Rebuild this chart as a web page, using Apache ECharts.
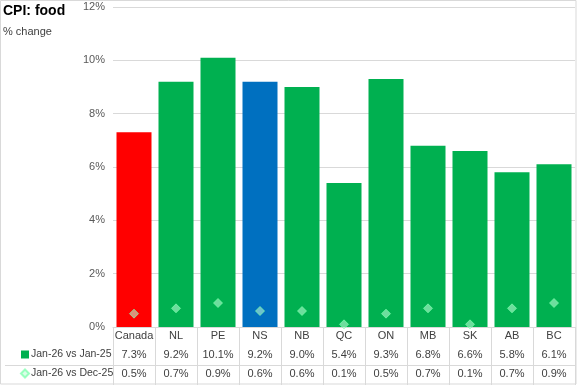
<!DOCTYPE html>
<html><head><meta charset="utf-8">
<script src="https://cdn.jsdelivr.net/npm/echarts@6/dist/echarts.min.js"></script>
<style>html,body{margin:0;padding:0;background:#fff}#c{width:577px;height:385px}</style>
</head><body><div id="c"></div>
<script>
const categories = ['Canada','NL','PE','NS','NB','QC','ON','MB','SK','AB','BC'];
const yoyValues = [7.3, 9.2, 10.1, 9.2, 9.0, 5.4, 9.3, 6.8, 6.6, 5.8, 6.1];
const momValues = [0.5, 0.7, 0.9, 0.6, 0.6, 0.1, 0.5, 0.7, 0.1, 0.7, 0.9];
const yTicks = [0, 2, 4, 6, 8, 10, 12];
const seriesNames = ['Jan-26 vs Jan-25', 'Jan-26 vs Dec-25'];
const barColors = {Canada: '#FF0000', NS: '#0070C0'};

const FONT = 'Liberation Sans';
const chart = echarts.init(document.getElementById('c'), null, {renderer: 'canvas'});
const fmt = v => v.toFixed(1) + '%';
const tableAxis = (data, offset) => ({
  type: 'category', data: data, position: 'bottom', offset: offset, gridIndex: 0,
  axisLine: {show: false}, axisTick: {show: false},
  axisLabel: {color: '#404040', fontSize: 11, fontFamily: FONT, margin: 3, interval: 0}
});
chart.setOption({
  animation: false,
  textStyle: {fontFamily: FONT},
  title: {
    text: 'CPI: food', subtext: '% change', left: 3, top: 4, itemGap: 8, padding: 0,
    textStyle: {fontSize: 14, fontWeight: 'bold', color: '#000', fontFamily: FONT},
    subtextStyle: {fontSize: 11, color: '#404040', fontFamily: FONT}
  },
  grid: {left: 113, right: 2, top: 7, bottom: 58, containLabel: false},
  legend: {
    orient: 'vertical', left: 20, top: 349, padding: 0, height: 36,
    itemWidth: 8, itemHeight: 8, itemGap: 8,
    textStyle: {fontSize: 10.5, color: '#404040', fontFamily: FONT, padding: [0, 0, 0, -3]},
    data: [{name: seriesNames[0], icon: 'rect'}, {name: seriesNames[1], icon: 'diamond'}]
  },
  xAxis: [
    {
      type: 'category', data: categories, position: 'bottom',
      axisLine: {show: true, lineStyle: {color: '#D9D9D9'}},
      axisTick: {show: true, length: 58, lineStyle: {color: '#D9D9D9'}},
      axisLabel: {color: '#404040', fontSize: 11, fontFamily: FONT, margin: 3, interval: 0}
    },
    tableAxis(yoyValues.map(fmt), 19),
    tableAxis(momValues.map(fmt), 38)
  ],
  yAxis: {
    type: 'value', min: 0, max: 12, interval: 2,
    axisLine: {show: false}, axisTick: {show: false},
    axisLabel: {formatter: '{value}%', color: '#595959', fontSize: 11, fontFamily: FONT, margin: 8},
    splitLine: {lineStyle: {color: '#D9D9D9'}}
  },
  graphic: [
    {type: 'line', shape: {x1: 5, y1: 365.5, x2: 575, y2: 365.5}, style: {stroke: '#D9D9D9', lineWidth: 1}, silent: true},
    {type: 'rect', shape: {x: 0.5, y: 0.5, width: 575.5, height: 383.5}, style: {fill: 'none', stroke: '#D9D9D9', lineWidth: 1}, silent: true}
  ],
  series: [
    {
      name: seriesNames[0], type: 'bar', barWidth: 35,
      itemStyle: {color: '#00B050'},
      data: yoyValues.map((v, i) => barColors[categories[i]] ? {value: v, itemStyle: {color: barColors[categories[i]]}} : v)
    },
    {
      name: seriesNames[1], type: 'scatter', symbol: 'diamond', symbolSize: 9,
      itemStyle: {color: 'rgba(190,255,215,0.72)', borderColor: 'rgba(120,255,170,0.9)', borderWidth: 1},
      data: momValues, z: 5
    }
  ]
});
</script></body></html>
